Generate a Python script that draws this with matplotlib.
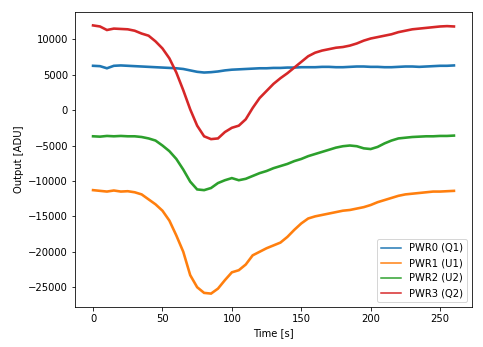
import matplotlib
matplotlib.use("Agg")
import matplotlib.pyplot as plt
from matplotlib.lines import Line2D
import numpy as np

# time axis, one sample every 5 s
time_s = np.arange(0, 261, 5)

pwr0_q1 = [6250, 6200, 5900, 6250, 6300, 6250, 6200, 6150, 6100, 6050,
           6000, 5950, 5900, 5800, 5600, 5400, 5300, 5350, 5450, 5600,
           5700, 5750, 5800, 5850, 5900, 5900, 5950, 5950, 6000, 6000,
           6050, 6050, 6050, 6100, 6100, 6050, 6050, 6100, 6150, 6150,
           6100, 6100, 6050, 6050, 6100, 6150, 6150, 6100, 6150, 6200,
           6250, 6250, 6300]
pwr1_u1 = [-11300, -11400, -11500, -11350, -11500, -11450, -11600, -11900, -12600, -13300,
           -14200, -15600, -17700, -20000, -23300, -25000, -25800, -25900, -25200, -24000,
           -22900, -22600, -21800, -20500, -20000, -19500, -19100, -18700, -17900, -16900,
           -16000, -15300, -15000, -14800, -14600, -14400, -14200, -14100, -13900, -13700,
           -13400, -13000, -12700, -12400, -12100, -11900, -11800, -11700, -11600, -11500,
           -11500, -11450, -11400]
pwr2_u2 = [-3700, -3750, -3650, -3700, -3650, -3700, -3700, -3800, -4000, -4300,
           -5000, -5800, -6900, -8400, -10100, -11200, -11300, -11000, -10300, -9900,
           -9600, -9900, -9700, -9300, -8900, -8600, -8200, -7900, -7600, -7200,
           -6900, -6500, -6200, -5900, -5600, -5300, -5100, -5000, -5100, -5400,
           -5500, -5200, -4700, -4300, -4000, -3900, -3800, -3750, -3700, -3700,
           -3650, -3650, -3600]
pwr3_q2 = [11950, 11800, 11300, 11500, 11450, 11400, 11200, 10800, 10500, 9700,
           8700, 7300, 5300, 2800, 100, -2200, -3700, -4100, -4000, -3100,
           -2500, -2200, -1300, 300, 1700, 2700, 3700, 4500, 5200, 6000,
           6800, 7600, 8100, 8400, 8600, 8800, 8900, 9100, 9400, 9800,
           10100, 10300, 10500, 10700, 11000, 11200, 11400, 11500, 11600, 11700,
           11800, 11850, 11800]

labels = ["PWR0 (Q1)", "PWR1 (U1)", "PWR2 (U2)", "PWR3 (Q2)"]
colors = ["C0", "C1", "C2", "C3"]

plt.rcParams["font.size"] = 10
fig = plt.figure(figsize=(483 / 72, 347 / 72), dpi=72)
ax = fig.add_axes([75 / 483, 40 / 347, 397 / 483, 295 / 347])

for series, c in zip([pwr0_q1, pwr1_u1, pwr2_u2, pwr3_q2], colors):
    ax.plot(time_s, series, color=c, lw=2.6, solid_joinstyle="miter")

ax.set_xlabel("Time [s]")
ax.set_ylabel("Output [ADU]")
handles = [Line2D([], [], color=c, lw=1.5) for c in colors]
ax.legend(handles, labels, loc="lower right")

fig.savefig("out.png", dpi=72)
